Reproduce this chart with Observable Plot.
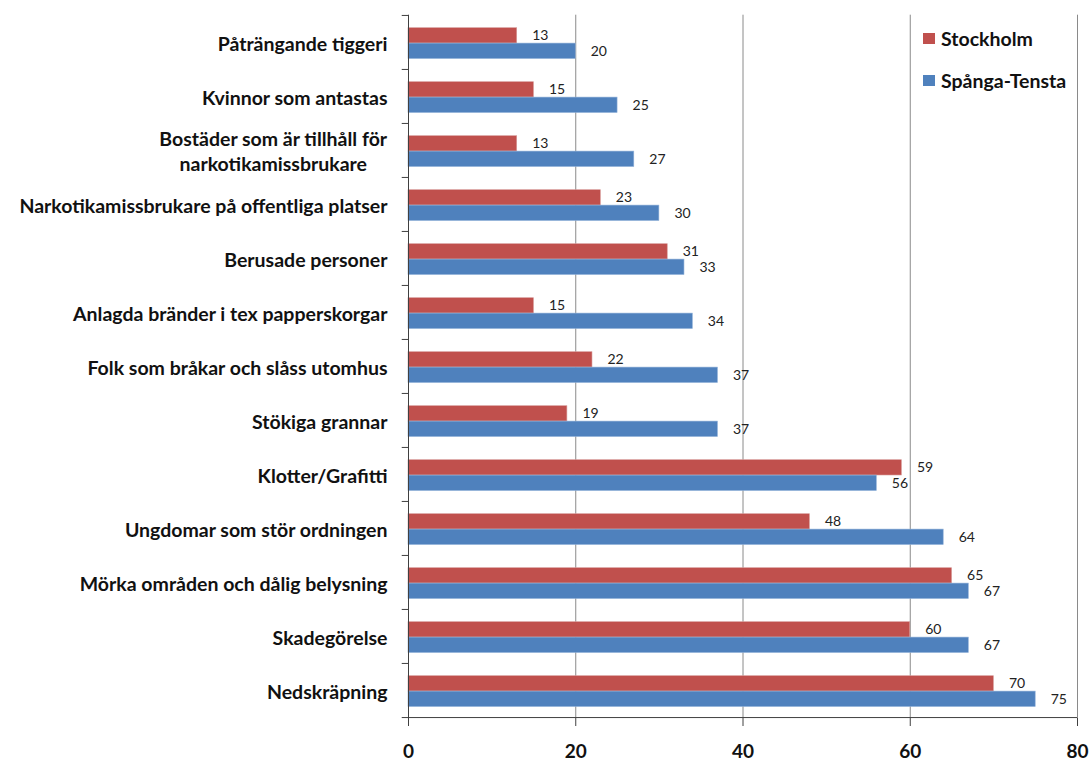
<!DOCTYPE html>
<html>
<head>
<meta charset="utf-8">
<script src="https://cdn.jsdelivr.net/npm/d3@7"></script>
<script src="https://cdn.jsdelivr.net/npm/@observablehq/plot@0.6"></script>
<style>
  html, body { margin: 0; padding: 0; background: #fff; }
  #wrap { position: relative; width: 1091px; height: 762px; overflow: hidden; font-family: Lato, "Open Sans", sans-serif; }
  #legend { position: absolute; left: 923px; top: 27px; font-size: 19.5px; color: #111; font-weight: bold; }
  #legend .item { display: flex; align-items: center; height: 22px; margin-bottom: 20px; }
  #legend .sw { width: 12px; height: 11px; margin-right: 6px; }
</style>
</head>
<body>
<div id="wrap">
  <div id="chart"></div>
  <div id="legend"></div>
</div>
<script>
const categories = [
  "Påträngande tiggeri",
  "Kvinnor som antastas",
  "Bostäder som är tillhåll för\nnarkotikamissbrukare",
  "Narkotikamissbrukare på offentliga platser",
  "Berusade personer",
  "Anlagda bränder i tex papperskorgar",
  "Folk som bråkar och slåss utomhus",
  "Stökiga grannar",
  "Klotter/Grafitti",
  "Ungdomar som stör ordningen",
  "Mörka områden och dålig belysning",
  "Skadegörelse",
  "Nedskräpning"
];
const stockholm = [13, 15, 13, 23, 31, 15, 22, 19, 59, 48, 65, 60, 70];
const spangaTensta = [20, 25, 27, 30, 33, 34, 37, 37, 56, 64, 67, 67, 75];
const seriesNames = ["Stockholm", "Spånga-Tensta"];
const seriesColors = ["#C0504D", "#4F81BD"];
const xTicks = [0, 20, 40, 60, 80];
const gridTicks = [20, 40, 60, 80];

const rowsS = categories.map((c, i) => ({cat: c, series: seriesNames[0], value: stockholm[i]}));
const rowsT = categories.map((c, i) => ({cat: c, series: seriesNames[1], value: spangaTensta[i]}));

const W = 1091, H = 762;
const mTop = 14.7, mBottom = 44, mLeft = 408, mRight = 14;
const band = (H - mTop - mBottom) / categories.length;

const chart = Plot.plot({
  width: W,
  height: H,
  marginTop: mTop,
  marginBottom: mBottom,
  marginLeft: mLeft,
  marginRight: mRight,
  style: {fontFamily: "Lato, 'Open Sans', sans-serif", background: "#fff", color: "#111", overflow: "visible"},
  x: {domain: [0, 80], axis: null},
  y: {domain: categories, padding: 0, axis: null},
  marks: [
    Plot.ruleX(gridTicks, {stroke: "#8a8a8a", strokeWidth: 1}),
    Plot.barX(rowsS, {y: "cat", x: "value", fill: seriesColors[0], stroke: "#d69a98", strokeWidth: 0.6, insetTop: 12.7, insetBottom: band - 28.1}),
    Plot.barX(rowsT, {y: "cat", x: "value", fill: seriesColors[1], stroke: "#8fb0d8", strokeWidth: 0.6, insetTop: 28.1, insetBottom: band - 43.6}),
    Plot.text(rowsS, {y: "cat", x: "value", text: d => String(d.value), textAnchor: "start", dx: 15, dy: 20.4 - band / 2, fontSize: 14, fill: "#222"}),
    Plot.text(rowsT, {y: "cat", x: "value", text: d => String(d.value), textAnchor: "start", dx: 15, dy: 35.8 - band / 2, fontSize: 14, fill: "#222"}),
    Plot.ruleX([0], {stroke: "#404040", strokeWidth: 1}),
    Plot.ruleY(categories, {y: d => d, x1: -0.75, x2: 0, dy: -band / 2, stroke: "#404040"}),
    Plot.ruleY([categories[categories.length - 1]], {y: d => d, x1: -0.75, x2: 80, dy: band / 2, stroke: "#404040"}),
    Plot.axisY({label: null, tickSize: 0, tickPadding: 21, fontSize: 19.5, fontWeight: "bold", lineHeight: 1.28, fill: "#111"}),
    Plot.axisX(xTicks, {label: null, tickSize: 8, tickPadding: 18, fontSize: 19, fontWeight: "bold", stroke: "#404040", fill: "#111"})
  ]
});
document.getElementById("chart").appendChild(chart);

// center the lines of multi-line category labels relative to each other (block stays right-aligned)
chart.querySelectorAll("text").forEach(t => {
  const tspans = t.querySelectorAll("tspan");
  if (tspans.length > 1) {
    const w = t.getBBox().width;
    t.setAttribute("text-anchor", "middle");
    t.style.textAnchor = "middle";
    const tr = t.getAttribute("transform") || "";
    t.setAttribute("transform", tr + ` translate(${-w / 2},0)`);
  }
});

const legend = document.getElementById("legend");
seriesNames.forEach((s, i) => {
  const item = document.createElement("div");
  item.className = "item";
  const sw = document.createElement("div");
  sw.className = "sw";
  sw.style.background = seriesColors[i];
  const lab = document.createElement("span");
  lab.textContent = s;
  item.appendChild(sw);
  item.appendChild(lab);
  legend.appendChild(item);
});
</script>
</body>
</html>
